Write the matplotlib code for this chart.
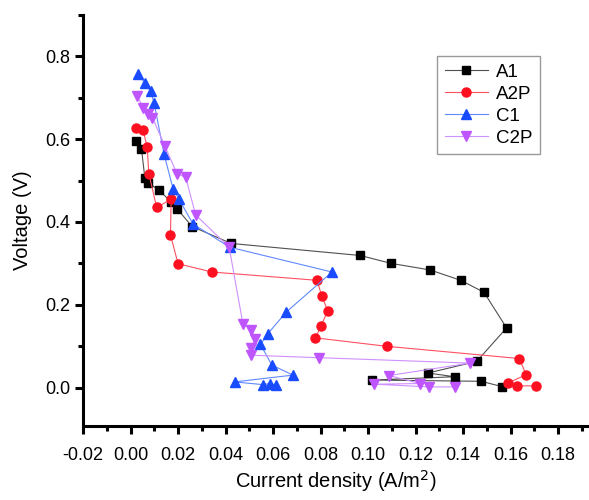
import numpy as np
import matplotlib
matplotlib.use('Agg')
import matplotlib.pyplot as plt
from matplotlib.ticker import MultipleLocator

plt.rcParams['font.family'] = ['Liberation Sans', 'DejaVu Sans']

# A1 - 黑色方块
a1_x = [0.0025, 0.0046, 0.0060, 0.0074, 0.0119, 0.0170, 0.0197, 0.0259, 0.0424,
        0.0967, 0.1096, 0.1261, 0.1390, 0.1488, 0.1583, 0.1457, 0.1252, 0.1364,
        0.1015, 0.1476, 0.1565]
a1_y = [0.596, 0.577, 0.507, 0.495, 0.477, 0.449, 0.431, 0.389, 0.348,
        0.319, 0.300, 0.284, 0.259, 0.230, 0.144, 0.063, 0.035, 0.026,
        0.018, 0.015, 0.002]

# A2P - 红色圆点
a2p_x = [0.0025, 0.0053, 0.0070, 0.0077, 0.0110, 0.0171, 0.0168, 0.0200, 0.0343,
         0.0785, 0.0805, 0.0830, 0.0802, 0.0778, 0.1079, 0.1637, 0.1665, 0.1590,
         0.1625, 0.1705]
a2p_y = [0.628, 0.622, 0.580, 0.517, 0.435, 0.455, 0.369, 0.299, 0.279,
         0.259, 0.221, 0.186, 0.148, 0.120, 0.0995, 0.070, 0.031, 0.011,
         0.004, 0.004]

# C1 - 蓝色上三角
c1_x = [0.0032, 0.0060, 0.0084, 0.0099, 0.0141, 0.0179, 0.0204, 0.0263, 0.0417,
        0.0848, 0.0655, 0.0578, 0.0547, 0.0595, 0.0684, 0.0438, 0.0557, 0.0585,
        0.0613]
c1_y = [0.757, 0.736, 0.716, 0.688, 0.564, 0.480, 0.455, 0.395, 0.339,
        0.279, 0.182, 0.130, 0.104, 0.054, 0.030, 0.0135, 0.007, 0.0096,
        0.0055]

# C2P - 紫色下三角
c2p_x = [0.0029, 0.0053, 0.0074, 0.0092, 0.0144, 0.0196, 0.0232, 0.0274, 0.0415,
         0.0473, 0.0508, 0.0525, 0.0508, 0.0508, 0.0795, 0.1429, 0.1089, 0.1219,
         0.1026, 0.1257, 0.1366]
c2p_y = [0.704, 0.676, 0.660, 0.652, 0.584, 0.516, 0.508, 0.417, 0.339,
         0.154, 0.140, 0.118, 0.096, 0.078, 0.072, 0.059, 0.029, 0.0096,
         0.008, 0.0015, 0.0015]

fig = plt.figure(figsize=(5.89, 5.0), dpi=100)
ax = fig.add_axes([0.141, 0.148, 0.859, 0.822])

ax.plot(a1_x, a1_y, color='#505050', lw=0.8, marker='s', ms=5.8,
        mfc='black', mec='black', label='A1')
ax.plot(a2p_x, a2p_y, color='#ff5060', lw=0.8, marker='o', ms=6.5,
        mfc='#ff1020', mec='#ff1020', label='A2P')
ax.plot(c1_x, c1_y, color='#6088ff', lw=0.8, marker='^', ms=7,
        mfc='#1a4cff', mec='#1a4cff', label='C1')
ax.plot(c2p_x, c2p_y, color='#d090ff', lw=0.8, marker='v', ms=7,
        mfc='#bf55ff', mec='#bf55ff', label='C2P')

ax.set_xlim(-0.02, 0.193)
ax.set_ylim(-0.093, 0.9)
ax.xaxis.set_major_locator(MultipleLocator(0.02))
ax.xaxis.set_minor_locator(MultipleLocator(0.01))
ax.yaxis.set_major_locator(MultipleLocator(0.2))
ax.yaxis.set_minor_locator(MultipleLocator(0.1))
ax.xaxis.set_major_formatter(matplotlib.ticker.FormatStrFormatter('%.2f'))
ax.yaxis.set_major_formatter(matplotlib.ticker.FormatStrFormatter('%.1f'))

for s in ['top', 'right']:
    ax.spines[s].set_visible(False)
for s in ['left', 'bottom']:
    ax.spines[s].set_linewidth(2.2)
ax.tick_params(which='major', direction='out', length=6, width=2.2, labelsize=13)
ax.tick_params(which='minor', direction='out', length=3.5, width=2.2)
ax.tick_params(axis='x', which='major', pad=9)
ax.tick_params(axis='y', which='major', pad=3)

ax.set_xlabel('Current density (A/m$^2$)', fontsize=14.5, labelpad=3)
ax.set_ylabel('Voltage (V)', fontsize=14.5, labelpad=10)

leg = ax.legend(loc='upper left', bbox_to_anchor=(0.70, 0.90), fontsize=13.5,
                fancybox=False, edgecolor='#808080', handlelength=2.3,
                borderpad=0.4, labelspacing=0.26, handletextpad=0.45,
                borderaxespad=0.0)
leg.get_frame().set_linewidth(1.0)

fig.savefig('out.png', dpi=100)
